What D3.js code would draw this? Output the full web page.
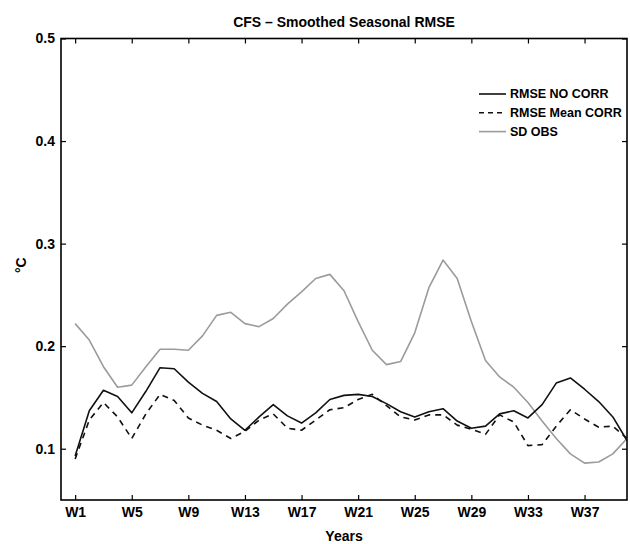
<!DOCTYPE html>
<html>

<head>
  <meta charset="utf-8" />
  <title>CFS Smoothed Seasonal RMSE</title>
  <style>
    body {
      margin: 0;
      background: #fff;
    }

    svg text {
      font-family: "Liberation Sans", Arial, Helvetica, sans-serif;
      font-weight: bold;
      fill: #000;
    }

    .axis path {
      display: none;
    }

    .axis line {
      stroke: #000;
      stroke-width: 1.2px;
    }

    .axis text {
      font-size: 14px;
    }

    .series {
      fill: none;
      stroke-linejoin: round;
    }
  </style>
  <script src="https://cdnjs.cloudflare.com/ajax/libs/d3/7.8.5/d3.min.js"></script>
</head>

<body>
  <div id="chartArea"></div>
  <script>
    // weeks W1..W40
    var weeks = d3.range(1, 41);
    var tickWeeks = [1, 5, 9, 13, 17, 21, 25, 29, 33, 37];
    var tickLabels = ['W1', 'W5', 'W9', 'W13', 'W17', 'W21', 'W25', 'W29', 'W33', 'W37'];
    var yTicks = [0.1, 0.2, 0.3, 0.4, 0.5];

    var rmseNoCorr = [0.093, 0.137, 0.157, 0.151, 0.135, 0.156, 0.179, 0.178, 0.165, 0.154,
      0.146, 0.129, 0.118, 0.131, 0.143, 0.132, 0.125, 0.135, 0.148, 0.152,
      0.153, 0.151, 0.144, 0.136, 0.131, 0.136, 0.139, 0.127, 0.120, 0.122,
      0.134, 0.137, 0.130, 0.143, 0.164, 0.169, 0.158, 0.146, 0.131, 0.108];

    var rmseMeanCorr = [0.090, 0.128, 0.145, 0.131, 0.110, 0.134, 0.153, 0.147, 0.130, 0.123,
      0.118, 0.110, 0.117, 0.128, 0.134, 0.120, 0.118, 0.128, 0.138, 0.140,
      0.148, 0.153, 0.142, 0.131, 0.128, 0.133, 0.133, 0.123, 0.119, 0.114,
      0.133, 0.126, 0.103, 0.104, 0.122, 0.138, 0.129, 0.121, 0.122, 0.110];

    var sdObs = [0.222, 0.206, 0.180, 0.160, 0.162, 0.180, 0.197, 0.197, 0.196, 0.210,
      0.230, 0.233, 0.222, 0.219, 0.227, 0.241, 0.253, 0.266, 0.270, 0.254,
      0.224, 0.196, 0.182, 0.185, 0.213, 0.257, 0.284, 0.266, 0.224, 0.186,
      0.170, 0.160, 0.145, 0.127, 0.110, 0.095, 0.086, 0.087, 0.095, 0.110];

    var seriesNames = ['RMSE NO CORR', 'RMSE Mean CORR', 'SD OBS'];

    var margin = { top: 38.5, right: 3, bottom: 44, left: 61 };
    var W = 630, H = 544;
    var w = W - margin.left - margin.right,
      h = H - margin.top - margin.bottom;

    var svg = d3.select('#chartArea').append('svg')
      .attr('width', W)
      .attr('height', H);

    var g = svg.append('g')
      .attr('transform', 'translate(' + margin.left + ',' + margin.top + ')');

    var xScale = d3.scaleLinear().domain([0, 40]).range([0, w]);
    var yScale = d3.scaleLinear().domain([0.05, 0.5]).range([h, 0]);

    // axes, MATLAB style: ticks pointing inward on all four sides
    g.append('g').attr('class', 'axis')
      .attr('transform', 'translate(0,' + h + ')')
      .call(d3.axisBottom(xScale).tickValues(tickWeeks)
        .tickFormat((d, i) => tickLabels[i])
        .tickSizeInner(-5).tickSizeOuter(0).tickPadding(7));

    g.append('g').attr('class', 'axis')
      .call(d3.axisTop(xScale).tickValues(tickWeeks).tickFormat('')
        .tickSizeInner(-5).tickSizeOuter(0));

    g.append('g').attr('class', 'axis')
      .call(d3.axisLeft(yScale).tickValues(yTicks).tickFormat(d3.format('.1f'))
        .tickSizeInner(-5).tickSizeOuter(0).tickPadding(6));

    g.append('g').attr('class', 'axis')
      .attr('transform', 'translate(' + w + ',0)')
      .call(d3.axisRight(yScale).tickValues(yTicks).tickFormat('')
        .tickSizeInner(-5).tickSizeOuter(0));

    g.append('rect')
      .attr('width', w).attr('height', h)
      .attr('fill', 'none').attr('stroke', '#000').attr('stroke-width', 1.6);

    var line = d3.line()
      .x((d, i) => xScale(weeks[i]))
      .y(d => yScale(d));

    var styles = [
      { color: '#111', dash: null, width: 1.6 },
      { color: '#111', dash: '6,5', width: 1.6 },
      { color: '#9b9b9b', dash: null, width: 1.6 }
    ];
    var allSeries = [rmseNoCorr, rmseMeanCorr, sdObs];

    // draw gray first so black lines sit on top
    [2, 1, 0].forEach(function (k) {
      g.append('path')
        .datum(allSeries[k])
        .attr('class', 'series')
        .attr('d', line)
        .attr('stroke', styles[k].color)
        .attr('stroke-width', styles[k].width)
        .attr('stroke-dasharray', styles[k].dash);
    });

    // legend
    var legend = svg.append('g').attr('transform', 'translate(479,94)');
    seriesNames.forEach(function (name, k) {
      var row = legend.append('g').attr('transform', 'translate(0,' + (k * 18.8) + ')');
      row.append('line')
        .attr('x1', 0).attr('x2', 27)
        .attr('stroke', styles[k].color)
        .attr('stroke-width', styles[k].width)
        .attr('stroke-dasharray', k === 1 ? '5,4' : null);
      row.append('text')
        .attr('x', 31).attr('dy', '0.35em')
        .style('font-size', '12.5px')
        .text(name);
    });

    // title and axis labels
    svg.append('text')
      .attr('x', margin.left + w / 2).attr('y', 27)
      .attr('text-anchor', 'middle')
      .style('font-size', '14px')
      .text('CFS – Smoothed Seasonal RMSE');

    svg.append('text')
      .attr('x', margin.left + w / 2).attr('y', 541)
      .attr('text-anchor', 'middle')
      .style('font-size', '14px')
      .text('Years');

    svg.append('text')
      .attr('transform', 'translate(26,' + (margin.top + h / 2 - 4) + ') rotate(-90)')
      .attr('text-anchor', 'middle')
      .style('font-size', '14px')
      .text('°C');
  </script>
</body>

</html>
